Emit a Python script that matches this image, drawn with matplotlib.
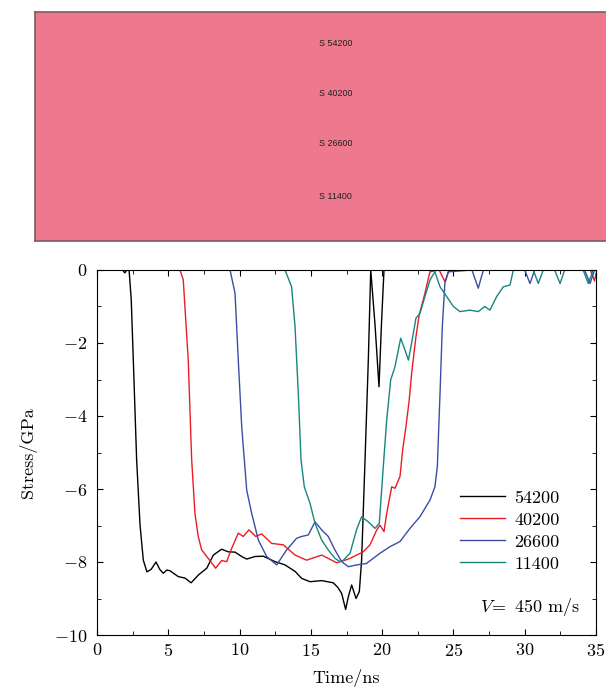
import matplotlib
matplotlib.use('Agg')
import matplotlib.pyplot as plt

plt.rcParams['font.family'] = 'serif'
plt.rcParams['font.serif'] = ['cmr10']
plt.rcParams['mathtext.fontset'] = 'cm'
plt.rcParams['axes.formatter.use_mathtext'] = True

# data
labels = ['54200', '40200', '26600', '11400']
colors = ['black', '#ec1c24', '#3a4ea6', '#17877e']

t_54200 = [0, 1.8, 1.95, 2.1, 2.25, 2.4, 2.55, 2.78, 3.02, 3.25, 3.5, 3.8, 4.14, 4.4, 4.65, 4.9,
           5.12, 5.7, 6.17, 6.6, 7.1, 7.7, 8.16, 8.74, 9.2, 9.68, 10.15, 10.5, 11.08, 11.66,
           12.48, 13.19, 13.9, 14.36, 14.94, 15.76, 16.57, 16.9, 17.16, 17.44, 17.63, 17.86,
           18.17, 18.4, 18.56, 18.8, 19.03, 19.2, 19.5, 19.78, 19.95, 20.13, 35]
s_54200 = [0, 0, -0.08, 0, 0, -0.8, -2.5, -5.2, -7.0, -7.95, -8.27, -8.2, -8.0, -8.2, -8.31, -8.22,
           -8.24, -8.4, -8.44, -8.57, -8.36, -8.17, -7.81, -7.65, -7.72, -7.73, -7.85, -7.92, -7.85, -7.84,
           -7.99, -8.08, -8.26, -8.45, -8.54, -8.51, -8.57, -8.7, -8.86, -9.3, -8.95, -8.63,
           -9.0, -8.81, -7.95, -5.2, -2.47, 0, -1.5, -3.2, -1.5, 0, 0]

t_40200 = [0, 5.82, 6.05, 6.4, 6.64, 6.87, 7.1, 7.34, 7.8, 8.32, 8.74, 9.1, 9.4, 9.91, 10.26, 10.66,
           11.13, 11.55, 12.25, 13.07, 13.89, 14.7, 15.76, 16.81, 17.4, 17.75, 18.68, 19.15, 19.62,
           19.85, 20.13, 20.32, 20.67, 20.9, 21.25, 21.44, 21.67, 21.9, 22.07, 22.37, 22.6, 23.0,
           23.35, 24.0, 24.4, 24.7, 34.6, 34.9, 35]
s_40200 = [0, 0, -0.27, -2.47, -5.2, -6.67, -7.3, -7.67, -7.9, -8.17, -7.96, -7.99, -7.67, -7.21, -7.3, -7.12,
           -7.3, -7.23, -7.49, -7.53, -7.81, -7.95, -7.81, -8.02, -7.95, -7.9, -7.72, -7.53, -7.12,
           -6.99, -7.17, -6.67, -5.94, -5.98, -5.66, -4.93, -4.29, -3.56, -2.83, -1.83, -1.23, -0.64,
           -0.05, 0, -0.32, 0, 0, -0.3, -0.1]

t_26600 = [0, 9.33, 9.68, 9.91, 10.15, 10.5, 10.85, 11.32, 11.9, 12.6, 13.3, 14.0, 14.36, 14.82, 15.29,
           15.76, 16.22, 16.69, 17.16, 17.63, 18.2, 18.9, 19.85, 20.55, 21.25, 21.95, 22.65, 23.36,
           23.7, 23.87, 24.06, 24.22, 24.4, 24.64, 26.3, 26.74, 27.1, 30.0, 30.37, 30.7, 34.2, 34.58,
           34.9, 35]
s_26600 = [0, 0, -0.63, -2.47, -4.29, -6.03, -6.67, -7.4, -7.85, -8.08, -7.67, -7.35, -7.3, -7.26, -6.9,
           -7.12, -7.3, -7.67, -7.99, -8.13, -8.08, -8.04, -7.76, -7.58, -7.44, -7.08, -6.76, -6.3,
           -5.94, -5.39, -3.38, -1.55, -0.37, -0.05, 0, -0.5, 0, 0, -0.37, 0, 0, -0.37,
           0, 0]

t_11400 = [0, 13.19, 13.65, 13.89, 14.12, 14.31, 14.54, 14.94, 15.29, 15.76, 16.22, 16.69, 17.04, 17.28,
           17.75, 18.2, 18.56, 19.03, 19.5, 19.8, 20.08, 20.32, 20.6, 20.9, 21.3, 21.6, 21.84, 22.07,
           22.37, 22.65, 23.0, 23.36, 23.7, 24.06, 24.53, 25.0, 25.46, 26.16, 26.74, 27.2, 27.56,
           28.03, 28.5, 28.97, 29.2, 30.6, 30.95, 31.3, 32.1, 32.48, 32.8, 34.1, 34.46, 34.8, 35]
s_11400 = [0, 0, -0.46, -1.55, -3.38, -5.2, -5.94, -6.39, -6.94, -7.4, -7.67, -7.9, -7.99, -7.95,
           -7.76, -7.12, -6.76, -6.9, -7.08, -6.94, -5.39, -4.11, -3.01, -2.65, -1.87, -2.19, -2.47, -2.0,
           -1.32, -1.19, -0.73, -0.27, -0.05, -0.46, -0.73, -1.0, -1.14, -1.1, -1.14, -1.0, -1.1,
           -0.73, -0.46, -0.41, 0, 0, -0.37, 0, 0, -0.37, 0, 0, -0.37, 0, 0]

times = [t_54200, t_40200, t_26600, t_11400]
stresses = [s_54200, s_40200, s_26600, s_11400]

fig = plt.figure(figsize=(6.06, 6.88), dpi=100)

# top panel: simulation snapshot with sensor labels
ax_top = fig.add_axes([35 / 606, 1 - 241 / 688, 1 - 35 / 606 + 0.01, 229 / 688])
ax_top.set_facecolor('#ee798e')
ax_top.set_xticks([])
ax_top.set_yticks([])
for sp in ax_top.spines.values():
    sp.set_color('#7d5a62')
    sp.set_linewidth(1.2)
ax_top.set_xlim(0, 1)
ax_top.set_ylim(0, 1)
sensor_y = [44, 94, 143, 196]
for lab, yp in zip(labels, sensor_y):
    ax_top.text((320 - 35) / 580, (241 - yp) / 229, 'S ' + lab, fontsize=6.4,
                family='Liberation Sans', color='#1e1e1e', va='center', ha='left')

# main chart
ax = fig.add_axes([97 / 606, 1 - 635 / 688, 499 / 606, 365 / 688])
for t, s, c, lab in zip(times, stresses, colors, labels):
    ax.plot(t, s, color=c, lw=1.0, label=lab)

ax.set_xlim(0, 35)
ax.set_ylim(-10, 0)
ax.set_xticks(range(0, 36, 5))
ax.set_xticks([2.5 + 5 * i for i in range(7)], minor=True)
ax.set_yticks(range(-10, 1, 2))
ax.set_yticks(range(-9, 0, 2), minor=True)
ax.tick_params(direction='in', top=True, right=True, which='both', labelsize=13)
ax.tick_params(which='major', length=4)
ax.tick_params(which='minor', length=3)
ax.tick_params(axis='y', pad=7)
ax.tick_params(axis='x', pad=5)
ax.set_xlabel('Time/ns', fontsize=13, labelpad=7)
ax.set_ylabel('Stress/GPa', fontsize=13, labelpad=12)

ax.legend(loc='upper left', bbox_to_anchor=(0.728, 0.397), frameon=False, fontsize=13,
          handlelength=2.5, labelspacing=0.35, borderpad=0, borderaxespad=0, handletextpad=0.5)
ax.text(0.868, 0.077, r'$V\!=$ 450 m/s', transform=ax.transAxes, fontsize=13,
        ha='center', va='center')

fig.savefig('out.png', dpi=100)
